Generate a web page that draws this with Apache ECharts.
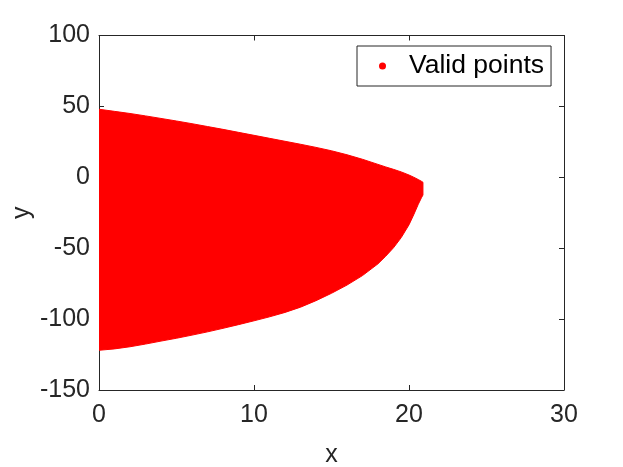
<!DOCTYPE html>
<html>
<head>
<meta charset="utf-8">
<script src="https://cdn.jsdelivr.net/npm/echarts@6/dist/echarts.min.js"></script>
<style>
  html, body { margin: 0; padding: 0; background: #fff; }
  #chart { width: 623px; height: 467px; }
</style>
</head>
<body>
<div id="chart"></div>
<script>
// boundary of the valid region
const xs = [0, 1, 2, 3, 4, 5, 6, 7, 8, 9, 10, 11, 12, 13, 14, 15, 16, 17, 18, 18.5, 19, 19.5, 20, 20.3, 20.6, 20.8, 20.9];
const yUpper = [48, 46.5, 45, 43.3, 41.5, 39.7, 37.8, 35.8, 33.8, 31.7, 29.6, 27.5, 25.4, 23.3, 21.1, 18.7, 15.9, 12.7, 9.1, 7.3, 5.6, 3.8, 1.6, 0.1, -1.6, -2.8, -3.5];
const yLower = [-122, -121, -119.5, -117.6, -115.5, -113.5, -111.3, -109, -106.5, -103.9, -101.2, -98.4, -95.3, -91.6, -87, -81.8, -76, -69.3, -61, -55.6, -49.7, -42.5, -33.5, -26.5, -19, -14.5, -12.5];
const xTicks = [0, 10, 20, 30];
const yTicks = [-150, -100, -50, 0, 50, 100];
const seriesName = 'Valid points';

const textColor = '#262626';
const axisColor = '#262626';
const fontFamily = 'Liberation Sans, Arial, Helvetica, sans-serif';

const chart = echarts.init(document.getElementById('chart'));

const baseX = {
  type: 'value',
  min: xTicks[0],
  max: xTicks[xTicks.length - 1],
  interval: 10,
  splitLine: { show: false },
  axisLine: { show: true, onZero: false, lineStyle: { color: axisColor, width: 1 } },
  axisTick: { show: true, inside: true, length: 5, lineStyle: { color: axisColor } }
};
const baseY = {
  type: 'value',
  min: yTicks[0],
  max: yTicks[yTicks.length - 1],
  interval: 50,
  splitLine: { show: false },
  axisLine: { show: true, onZero: false, lineStyle: { color: axisColor, width: 1 } },
  axisTick: { show: true, inside: true, length: 5, lineStyle: { color: axisColor } }
};

const option = {
  animation: false,
  backgroundColor: '#fff',
  grid: { left: 99, right: 59, top: 35.5, bottom: 77, outerBoundsMode: 'none', containLabel: false },
  legend: {
    data: [{ name: seriesName, icon: 'circle' }],
    left: 357,
    top: 46,
    orient: 'vertical',
    itemWidth: 7,
    itemHeight: 7,
    itemGap: 0,
    padding: [6, 7, 6, 22],
    borderColor: '#262626',
    borderWidth: 1,
    backgroundColor: '#fff',
    textStyle: {
      color: '#000',
      fontSize: 26.5,
      fontFamily: fontFamily,
      lineHeight: 26,
      padding: [2, 0, 0, 18]
    }
  },
  xAxis: [
    Object.assign({}, baseX, {
      position: 'bottom',
      name: 'x',
      nameLocation: 'middle',
      nameGap: 53,
      nameMoveOverlap: false,
      nameTextStyle: { color: textColor, fontSize: 25, fontFamily: fontFamily },
      axisLabel: { color: textColor, fontSize: 25, fontFamily: fontFamily, margin: 13 }
    }),
    Object.assign({}, baseX, { position: 'top', axisLabel: { show: false } })
  ],
  yAxis: [
    Object.assign({}, baseY, {
      position: 'left',
      name: 'y',
      nameLocation: 'middle',
      nameGap: 64,
      nameMoveOverlap: false,
      nameTextStyle: { color: textColor, fontSize: 25, fontFamily: fontFamily },
      axisLabel: { color: textColor, fontSize: 25, fontFamily: fontFamily, margin: 9 }
    }),
    Object.assign({}, baseY, { position: 'right', axisLabel: { show: false } })
  ],
  series: [
    {
      name: seriesName,
      type: 'custom',
      xAxisIndex: 0,
      yAxisIndex: 0,
      clip: true,
      itemStyle: { color: '#ff0000' },
      data: xs.map((x, i) => [x, yUpper[i], yLower[i]]),
      encode: { x: 0, y: [1, 2] },
      renderItem: (params, api) => {
        // 整个区域画成一个多边形：上边界从左到右，下边界从右到左
        if (params.dataIndex !== 0) return null;
        const pts = [];
        xs.forEach((x, i) => pts.push(api.coord([x, yUpper[i]])));
        for (let i = xs.length - 1; i >= 0; i--) {
          pts.push(api.coord([xs[i], yLower[i]]));
        }
        return {
          type: 'polygon',
          shape: { points: pts },
          style: { fill: '#ff0000', stroke: '#ff0000', lineWidth: 1 }
        };
      }
    }
  ]
};

chart.setOption(option);
</script>
</body>
</html>
